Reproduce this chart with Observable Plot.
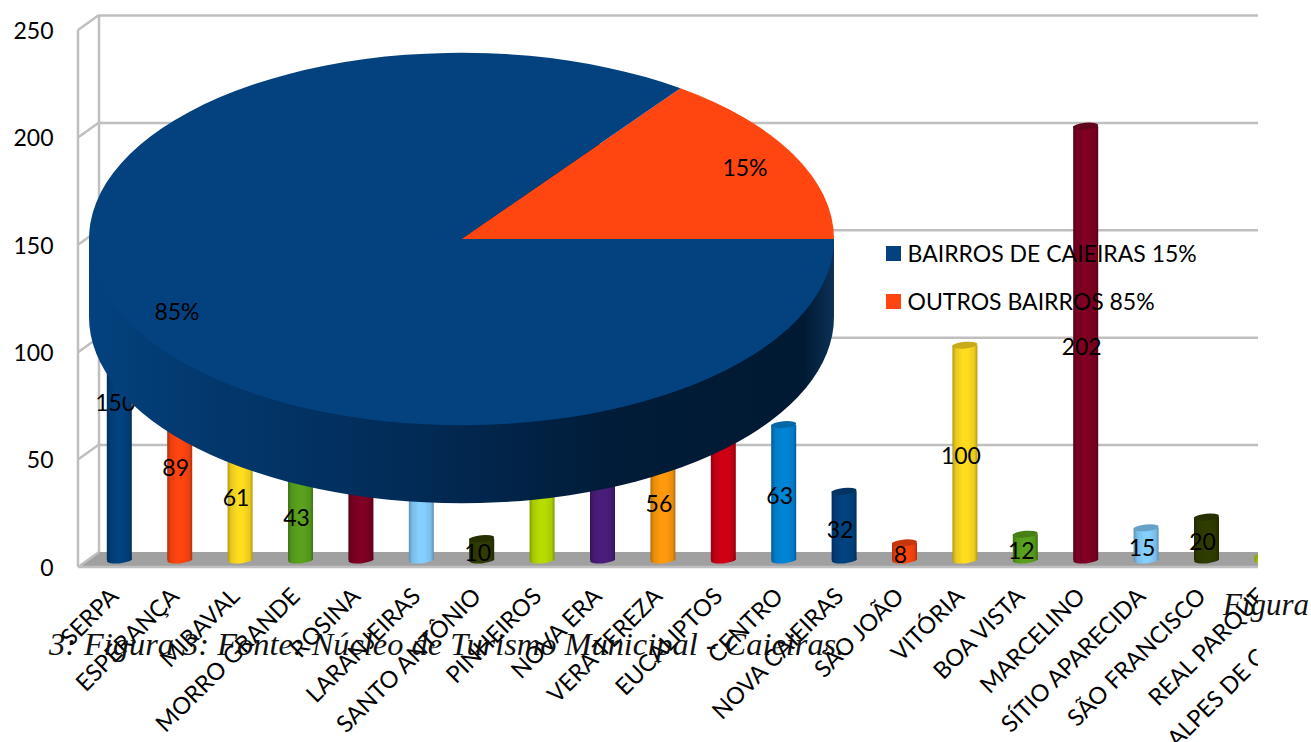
<!DOCTYPE html>
<html><head><meta charset="utf-8">
<style>
html,body{margin:0;padding:0;background:#fff;overflow:hidden;width:1311px;height:742px}
#wrap{position:relative;width:1311px;height:742px;font-family:Lato,sans-serif}
#wrap svg{position:absolute;left:0;top:0}
.lg{position:absolute;left:907.5px;font-size:23px;line-height:28px;color:#000;white-space:nowrap}
.sw{position:absolute;left:886px;width:15px;height:15px}
.cap{position:absolute;font-family:"Liberation Serif",serif;font-style:italic;font-size:32.4px;line-height:36px;color:#111;white-space:nowrap}
</style>
<script src="https://cdn.jsdelivr.net/npm/d3@7"></script>
<script src="https://cdn.jsdelivr.net/npm/@observablehq/plot@0.6"></script>
</head><body><div id="wrap"></div>
<script>
const names = ["SERPA","ESPERANÇA","MIRAVAL","MORRO GRANDE","ROSINA","LARANJEIRAS","SANTO ANTÔNIO","PINHEIROS","NOVA ERA","VERA TEREZA","EUCALIPTOS","CENTRO","NOVA CAIEIRAS","SÃO JOÃO","VITÓRIA","BOA VISTA","MARCELINO","SÍTIO APARECIDA","SÃO FRANCISCO","REAL PARQUE","ALPES DE CAIEIRAS"];
const values = [150,89,61,43,80,70,10,75,90,56,120,63,32,8,100,12,202,15,20,2,10];
const showValue = [1,1,1,1,1,1,1,1,1,1,1,1,1,1,1,1,1,1,1,0,0];
const palette = ["#02427f","#ff4510","#ffdc1f","#5aa21e","#7f0022","#85cfff","#2f3c00","#b7dd00","#4b1d7b","#ff9a0d","#cf0014","#0085d6"];
const yTicks = [0,50,100,150,200,250];
const pieLabels = ["OUTROS BAIRROS","BAIRROS DE CAIEIRAS"];
const pieShares = [15,85];
const pieColors = ["#ff4510","#03427f"];
const legendNames = ["BAIRROS DE CAIEIRAS 15%","OUTROS BAIRROS 85%"];
const legendColors = ["#03427f","#ff4510"];

const rows = names.map((name,i)=>({name,value:values[i],i,color:palette[i%palette.length],show:showValue[i]}));
const GRID="#bfbfbf", BACK=-8, FRONT=7, DX=21;

function defsMark(){
  const d = d3.create("svg:defs");
  palette.forEach((c,i)=>{
    const g = d.append("linearGradient").attr("id","cyl"+i).attr("x1",0).attr("x2",1).attr("y1",0).attr("y2",0);
    const dark = d3.color(c).darker(1.0).formatHex(), mid = d3.color(c).darker(0.25).formatHex();
    [[0,dark],[.14,mid],[.42,c],[.62,c],[.88,mid],[1,dark]].forEach(([o,col])=>g.append("stop").attr("offset",o).attr("stop-color",col));
  });
  const s = d.append("linearGradient").attr("id","pieSide").attr("gradientUnits","userSpaceOnUse").attr("x1",89).attr("x2",834).attr("y1",0).attr("y2",0);
  [[0,"#03427f"],[.12,"#033a70"],[.45,"#022a55"],[.7,"#011c38"],[.96,"#011a33"],[1,"#0d3157"]].forEach(([o,col])=>s.append("stop").attr("offset",o).attr("stop-color",col));
  return d.node();
}
function wallsMark(i,scales){
  const g = d3.create("svg:g"), y=scales.y, R=1258;
  const bx=99, fx=bx-DX;
  g.append("path").attr("d",`M${fx},${y(0)+FRONT}L${bx},${y(0)+BACK}L${R},${y(0)+BACK}L${R},${y(0)+FRONT}Z`).attr("fill","#a0a0a0");
  g.append("path").attr("d",`M${fx},${y(0)+FRONT}H${R}`).attr("stroke",GRID).attr("stroke-width",2.5);
  g.append("path").attr("d",`M${fx},${y(250)+FRONT}V${y(0)+FRONT}`).attr("stroke",GRID).attr("stroke-width",2.5).attr("fill","none");
  g.append("path").attr("d",`M${bx},${y(250)+BACK}V${y(0)+BACK}`).attr("stroke",GRID).attr("stroke-width",2.5).attr("fill","none");
  yTicks.forEach(t=>g.append("path").attr("d",`M${fx},${y(t)+FRONT}L${bx},${y(t)+BACK}`).attr("stroke",GRID).attr("stroke-width",2.5));
  return g.node();
}
function capsMark(which){
  return function(index,scales){
    const g = d3.create("svg:g"), x=scales.x, y=scales.y, bw=x.bandwidth?x.bandwidth():25;
    rows.forEach(r=>{
      const cx=x(r.name)+bw/2, cy=which==="top"?y(r.value):y(0);
      const c=palette[r.i%palette.length];
      g.append("ellipse").attr("cx",0).attr("cy",0).attr("rx",bw/2).attr("ry",3.4)
       .attr("transform",`translate(${cx},${cy}) rotate(-5)`)
       .attr("fill",which==="top"?d3.color(c).darker(0.7).formatHex():`url(#cyl${r.i%palette.length})`);
    });
    return g.node();
  };
}
function pieMark(){
  const cx=461.5, cy=239, rx=372.5, depth=78;
  const g = d3.create("svg:g");
  g.append("ellipse").attr("cx",cx).attr("cy",cy+depth).attr("rx",rx).attr("ry",rx/2).attr("fill","url(#pieSide)");
  g.append("rect").attr("x",cx-rx).attr("y",cy).attr("width",2*rx).attr("height",depth).attr("fill","url(#pieSide)");
  const top = g.append("g").attr("transform",`translate(${cx},${cy}) scale(1,0.5)`);
  const arcs = d3.pie().sort(null).startAngle(Math.PI/5).endAngle(Math.PI/5+2*Math.PI)(pieShares);
  const arc = d3.arc().innerRadius(0).outerRadius(rx);
  arcs.forEach((a,i)=>top.append("path").attr("d",arc(a)).attr("fill",pieColors[i]));
  const t = (s,x,yy)=>g.append("text").attr("x",x).attr("y",yy).attr("text-anchor","middle").attr("dominant-baseline","central").attr("font-size",23).attr("fill","#000").text(s);
  t(pieShares[0]+"%",745,167);
  t(pieShares[1]+"%",177,311);
  return g.node();
}

const chart = Plot.plot({
  width:1311, height:742,
  marginLeft:99, marginRight:0, marginTop:0, marginBottom:164,
  style:{fontFamily:"Lato, sans-serif",background:"transparent",overflow:"visible"},
  x:{domain:names, range:[89.1,1357.5], paddingInner:0.586, paddingOuter:0.293, align:0.5, round:false, label:null},
  y:{domain:[0,250], range:[560,23], label:null},
  color:{type:"identity"},
  marks:[
    defsMark,
    Plot.ruleY(yTicks.filter(t=>t>0),{y:d=>d,dy:BACK,stroke:GRID,strokeWidth:2.5}),
    wallsMark,
    capsMark("bottom"),
    Plot.barY(rows,{x:"name",y:"value",fill:d=>`url(#cyl${d.i%palette.length})`}),
    capsMark("top"),
    Plot.text(rows.filter(d=>d.show),{x:"name",y:d=>d.value/2,text:d=>String(d.value),dx:-4.5,dy:4,fontSize:23,fill:"#000"}),
    Plot.axisY({ticks:yTicks,tickSize:0,tickPadding:46,dy:8,fontSize:23,label:null,fill:"#000"}),
    Plot.axisX({tickSize:0,tickRotate:-45,tickPadding:12,dx:-5,dy:2,fontSize:23.5,label:null,fill:"#000"}),
    pieMark
  ]
});
chart.style.clipPath="inset(0 53px 0 0)";
const wrap=document.getElementById("wrap");
wrap.appendChild(chart);
[[legendNames[0],legendColors[0],245.7,239],[legendNames[1],legendColors[1],294,287]].forEach(([n,c,sy,ty])=>{
  const s=document.createElement("div");s.className="sw";s.style.top=sy+"px";s.style.background=c;wrap.appendChild(s);
  const l=document.createElement("div");l.className="lg";l.style.top=ty+"px";l.textContent=n;wrap.appendChild(l);
});
[["Figura",1223,587,"31px"],["3: Figura 3: Fonte: Núcleo de Turismo Municipal - Caieiras.",49,626,"32.4px"]].forEach(([n,x,y,fs])=>{
  const c=document.createElement("div");c.className="cap";c.style.left=x+"px";c.style.top=y+"px";c.style.fontSize=fs;c.textContent=n;wrap.appendChild(c);
});
</script></body></html>
